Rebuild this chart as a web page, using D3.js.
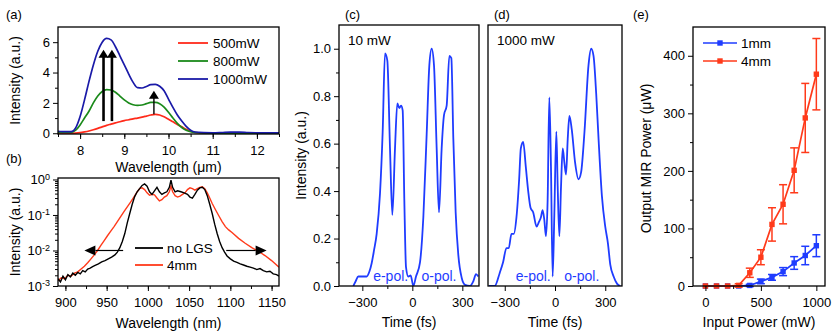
<!DOCTYPE html>
<html>
<head>
<meta charset="utf-8">
<script src="https://cdn.jsdelivr.net/npm/d3@7"></script>
<style>
  body { margin: 0; background: #fff; }
  svg { display: block; font-family: "Liberation Sans", Arial, sans-serif; }
</style>
</head>
<body>
<svg id="fig" width="833" height="333"></svg>
<script>
// ---------- data ----------
// (a) MIR spectra vs wavelength (um)
const wlA = [7.5,7.6,7.7,7.8,7.9,8.0,8.1,8.2,8.3,8.4,8.5,8.6,8.7,8.8,8.9,9.0,9.1,9.2,9.3,9.4,9.5,9.6,9.7,9.8,9.9,10.0,10.1,10.2,10.3,10.4,10.5,10.6,10.8,11.0,11.2,11.4,11.6,11.8,12.0,12.2,12.5];
const spec500 = [0,0,0,0,0.01,0.04,0.09,0.15,0.23,0.32,0.42,0.52,0.6,0.68,0.76,0.83,0.89,0.95,1.0,1.06,1.13,1.2,1.24,1.2,1.08,0.92,0.75,0.58,0.42,0.26,0.13,0.05,0.01,0,0,0,0,0,0,0,0];
const spec800 = [0.05,0.05,0.05,0.05,0.2,0.55,1.0,1.45,2.0,2.45,2.75,2.88,2.85,2.7,2.45,2.2,2.0,1.88,1.84,1.86,1.95,2.03,2.04,1.95,1.72,1.38,1.0,0.65,0.38,0.2,0.1,0.05,0.02,0.01,0.01,0.01,0.01,0.01,0.01,0.01,0.01];
const spec1000 = [0.12,0.11,0.1,0.1,0.35,1.1,2.2,3.4,4.5,5.4,6.0,6.25,6.15,5.7,5.1,4.5,3.9,3.35,3.0,2.98,3.08,3.2,3.22,3.1,2.8,2.25,1.7,1.2,0.8,0.45,0.2,0.08,0.04,0.03,0.05,0.08,0.08,0.05,0.03,0.02,0.02];
const seriesA = [
  { name: '500mW', color: '#ff2a1a', values: spec500 },
  { name: '800mW', color: '#1a8a1a', values: spec800 },
  { name: '1000mW', color: '#1a1aa8', values: spec1000 }
];
const arrowsA = [
  { x: 8.53, y0: 0.8, y1: 5.5, w: 2.6 },
  { x: 8.72, y0: 0.8, y1: 5.5, w: 2.6 },
  { x: 9.67, y0: 1.25, y1: 2.8, w: 1.4 }
];

// (b) pump spectra, log scale
const wlNoLGS = [891,894,897,900,903,906,909,912,915,918,921,924,927,930,933,936,940,944,948,952,956,960,963,966,969,972,975,978,981,984,987,990,993,996,999,1002,1005,1008,1011,1014,1017,1020,1023,1026,1028,1030,1033,1036,1040,1044,1048,1051,1054,1057,1060,1063,1066,1069,1072,1075,1078,1081,1084,1087,1090,1093,1096,1100,1104,1108,1112,1116,1120,1124,1128,1132,1136,1140,1144,1148,1152,1156,1159];
const intNoLGS = [1.6e-3,1.3e-3,1.9e-3,1.5e-3,2.1e-3,1.8e-3,2.3e-3,2.0e-3,2.4e-3,2.2e-3,2.7e-3,2.5e-3,3.0e-3,3.2e-3,3.5e-3,3.8e-3,4.2e-3,4.8e-3,5.2e-3,5.8e-3,6.5e-3,7.5e-3,9e-3,0.012,0.018,0.03,0.06,0.11,0.2,0.33,0.45,0.55,0.68,0.75,0.65,0.45,0.38,0.48,0.6,0.45,0.38,0.42,0.45,0.6,0.95,0.6,0.45,0.48,0.45,0.42,0.38,0.32,0.3,0.38,0.5,0.58,0.6,0.52,0.35,0.2,0.11,0.055,0.03,0.018,0.012,0.009,0.007,5.8e-3,5.0e-3,4.6e-3,4.2e-3,3.9e-3,3.6e-3,3.4e-3,3.2e-3,2.9e-3,3.1e-3,2.7e-3,2.5e-3,2.6e-3,2.2e-3,2.1e-3,1.9e-3];
const wl4mm = [891,895,899,903,907,911,915,919,923,927,931,935,939,943,947,951,955,959,963,967,971,975,979,983,987,990,993,996,999,1002,1005,1008,1011,1014,1017,1020,1023,1026,1028,1030,1033,1036,1039,1042,1045,1048,1051,1054,1057,1060,1063,1066,1069,1072,1075,1078,1082,1086,1090,1094,1098,1102,1110,1118,1126,1134,1142,1150,1159];
const int4mm = [1.4e-3,1.7e-3,1.6e-3,2.0e-3,1.9e-3,2.3e-3,2.5e-3,3.0e-3,3.6e-3,4.5e-3,5.8e-3,7.5e-3,0.01,0.014,0.019,0.026,0.035,0.047,0.065,0.09,0.125,0.17,0.23,0.32,0.45,0.55,0.58,0.52,0.42,0.36,0.38,0.37,0.3,0.25,0.27,0.32,0.35,0.45,0.65,0.45,0.35,0.32,0.34,0.38,0.42,0.52,0.58,0.55,0.5,0.55,0.6,0.62,0.55,0.42,0.3,0.21,0.14,0.095,0.065,0.047,0.038,0.032,0.022,0.016,0.012,0.0095,0.0072,0.0052,0.0034];
const arrowsB = [
  { x0: 970, x1: 923, y: 0.01 },
  { x0: 1095, x1: 1144, y: 0.01 }
];

// (c) 10 mW, (d) 1000 mW temporal profiles
const timeC = [-354,-340,-324,-300,-274,-258,-244,-230,-214,-194,-178,-164,-150,-134,-120,-104,-90,-78,-68,-58,-48,-38,-24,-10,6,22,46,66,86,102,116,130,146,160,176,190,206,222,234,246,260,276,296,316,346,366,382,396];
const intC = [0,0.02,0.04,0.04,0.04,0.06,0.096,0.15,0.22,0.39,0.65,0.98,0.95,0.58,0.30,0.58,0.77,0.75,0.76,0.74,0.36,0.08,0.04,0.045,0,0.04,0.1,0.29,0.64,0.93,1.0,0.93,0.58,0.31,0.58,0.72,0.76,0.97,0.96,0.62,0.31,0.13,0.035,0.005,0,0.02,0.05,0.04];
const timeD = [-394,-360,-330,-310,-290,-276,-260,-246,-230,-214,-204,-190,-174,-160,-146,-130,-110,-96,-84,-74,-64,-54,-44,-34,-24,-14,-4,8,16,26,36,46,56,66,76,86,100,120,140,156,176,200,216,230,246,260,280,300,316,330,350,370,390];
const intD = [0,0,0.055,0.1,0.16,0.16,0.22,0.22,0.29,0.45,0.58,0.607,0.5,0.4,0.33,0.31,0.25,0.27,0.29,0.32,0.28,0.21,0.36,0.795,0.5,0.04,0.3,0.65,0.42,0.21,0.42,0.58,0.52,0.47,0.62,0.717,0.66,0.52,0.45,0.48,0.65,0.93,1.0,0.97,0.81,0.62,0.38,0.25,0.18,0.09,0.04,0.01,0];

// (e) output MIR power vs input power
const powerIn = [0,100,200,300,400,500,600,700,800,900,1000];
const mir1mm = [0,0,0,0,1,8,15,25,40,53,70];
const err1mm = [0,0,0,0,2,4,5,7,11,16,19];
const mir4mm = [0,0,0,1,23,50,107,142,201,292,368];
const err4mm = [0,0,0,3,8,13,29,34,39,60,62];

// ---------- layout ----------
const svg = d3.select('#fig');
const TICK_FS = 13, TITLE_FS = 14;
const BLUE = '#1f3cff', RED = '#ff3a1a';

const A = { l: 58, r: 279, t: 27, b: 134 };
const B = { l: 58, r: 279, t: 178, b: 286 };
const C = { l: 339, r: 479, t: 25, b: 286 };
const D = { l: 488, r: 622, t: 25, b: 286 };
const E = { l: 693, r: 825, t: 27, b: 286 };

const xA = d3.scaleLinear([7.5, 12.5], [A.l, A.r]);
const yA = d3.scaleLinear([-0.05, 7], [A.b, A.t]);
const xB = d3.scaleLinear([891, 1159], [B.l, B.r]);
const yB = d3.scaleLog([1e-3, 1.1], [B.b, B.t]);
const xC = d3.scaleLinear([-440, 400], [C.l, C.r]);
const yC = d3.scaleLinear([0, 1.1], [C.b, C.t]);
const xD = d3.scaleLinear([-400, 400], [D.l, D.r]);
const yD = d3.scaleLinear([0, 1.1], [D.b, D.t]);
const xE = d3.scaleLinear([-112, 1078], [E.l, E.r]);
const yE = d3.scaleLinear([0, 450], [E.b, E.t]);

const defs = svg.append('defs');
function clip(id, p) {
  defs.append('clipPath').attr('id', id)
    .append('rect').attr('x', p.l).attr('y', p.t).attr('width', p.r - p.l).attr('height', p.b - p.t);
  return svg.append('g').attr('clip-path', `url(#${id})`);
}

function styleAxis(g) {
  g.select('.domain').remove();
  g.selectAll('line').attr('stroke', '#000').attr('stroke-width', 1);
  g.selectAll('text').attr('font-size', TICK_FS).attr('fill', '#000')
    .attr('font-family', '"Liberation Sans", Arial, sans-serif');
}

function xAxis(p, sx, major, minor, fmt) {
  svg.append('g').attr('transform', `translate(0,${p.b})`)
    .call(d3.axisBottom(sx).tickValues(minor).tickSize(3).tickFormat(''))
    .call(styleAxis);
  svg.append('g').attr('transform', `translate(0,${p.b})`)
    .call(d3.axisBottom(sx).tickValues(major).tickSize(5).tickPadding(7).tickFormat(fmt || d3.format('d')))
    .call(styleAxis);
}

function yAxis(p, sy, major, minor, fmt) {
  svg.append('g').attr('transform', `translate(${p.l},0)`)
    .call(d3.axisLeft(sy).tickValues(minor).tickSize(3).tickFormat(''))
    .call(styleAxis);
  return svg.append('g').attr('transform', `translate(${p.l},0)`)
    .call(d3.axisLeft(sy).tickValues(major).tickSize(5).tickPadding(3).tickFormat(fmt || d3.format('d')))
    .call(styleAxis);
}

function frame(p) {
  svg.append('rect').attr('x', p.l).attr('y', p.t).attr('width', p.r - p.l).attr('height', p.b - p.t)
    .attr('fill', 'none').attr('stroke', '#000').attr('stroke-width', 1.3);
}

function text(x, y, s, opts = {}) {
  return svg.append('text').attr('x', x).attr('y', y).text(s)
    .attr('font-size', opts.size || TITLE_FS).attr('fill', opts.color || '#000')
    .attr('text-anchor', opts.anchor || 'start');
}

function yTitle(x, y, s) {
  svg.append('text').attr('transform', `translate(${x},${y}) rotate(-90)`)
    .attr('text-anchor', 'middle').attr('dy', '0.35em')
    .attr('font-size', TITLE_FS).attr('fill', '#000').text(s);
}

// ---------- panel (a) ----------
{
  const g = clip('clipA', A);
  const line = d3.line().x((d, i) => xA(wlA[i])).y(d => yA(d)).curve(d3.curveMonotoneX);
  seriesA.forEach(s => {
    g.append('path').attr('d', line(s.values)).attr('fill', 'none')
      .attr('stroke', s.color).attr('stroke-width', 1.7);
  });
  // arrows
  arrowsA.forEach(a => {
    const x = xA(a.x), yBot = yA(a.y0), yTip = yA(a.y1);
    const hl = 8, hw = 5;
    g.append('line').attr('x1', x).attr('x2', x).attr('y1', yBot).attr('y2', yTip + hl - 1)
      .attr('stroke', '#000').attr('stroke-width', a.w);
    g.append('path').attr('d', `M${x},${yTip}L${x - hw},${yTip + hl}L${x + hw},${yTip + hl}Z`).attr('fill', '#000');
  });
  xAxis(A, xA, [8, 9, 10, 11, 12], d3.range(7.5, 12.51, 0.5));
  yAxis(A, yA, [0, 2, 4, 6], [1, 3, 5]);
  frame(A);
  // legend
  seriesA.forEach((s, i) => {
    const y = A.t + 16 + i * 18;
    svg.append('line').attr('x1', A.l + 120).attr('x2', A.l + 150).attr('y1', y).attr('y2', y)
      .attr('stroke', s.color).attr('stroke-width', 1.8);
    text(A.l + 155, y + 5, s.name, { size: 13.5 });
  });
  yTitle(15, (A.t + A.b) / 2, 'Intensity (a.u.)');
  text((A.l + A.r) / 2, 172, 'Wavelength (\u03bcm)', { anchor: 'middle' });
  text(6, 19, '(a)', { size: 13 });
}

// ---------- panel (b) ----------
{
  const g = clip('clipB', B);
  const lineNo = d3.line().x((d, i) => xB(wlNoLGS[i])).y(d => yB(d));
  const line4 = d3.line().x((d, i) => xB(wl4mm[i])).y(d => yB(d));
  g.append('path').attr('d', line4(int4mm)).attr('fill', 'none').attr('stroke', RED).attr('stroke-width', 1.4);
  g.append('path').attr('d', lineNo(intNoLGS)).attr('fill', 'none').attr('stroke', '#000').attr('stroke-width', 1.4);
  arrowsB.forEach(a => {
    const x0 = xB(a.x0), x1 = xB(a.x1), y = yB(a.y);
    const dir = Math.sign(x1 - x0), hl = 11, hw = 5;
    g.append('line').attr('x1', x0).attr('x2', x1 - dir * hl).attr('y1', y).attr('y2', y)
      .attr('stroke', '#000').attr('stroke-width', 1.2);
    g.append('path').attr('d', `M${x1},${y}L${x1 - dir * hl},${y - hw}L${x1 - dir * hl},${y + hw}Z`).attr('fill', '#000');
  });
  xAxis(B, xB, [900, 950, 1000, 1050, 1100, 1150], d3.range(900, 1151, 25));
  const minorLog = [];
  [1e-3, 1e-2, 1e-1].forEach(dec => d3.range(2, 10).forEach(k => minorLog.push(dec * k)));
  const ya = yAxis(B, yB, [1e-3, 1e-2, 1e-1, 1], minorLog, () => '');
  ya.selectAll('.tick text').each(function (d) {
    const t = d3.select(this).text(null);
    t.append('tspan').text('10');
    t.append('tspan').attr('dy', '-0.5em').attr('font-size', 9).text(String(Math.round(Math.log10(d))));
  });
  frame(B);
  const leg = [{ name: 'no LGS', color: '#000' }, { name: '4mm', color: RED }];
  leg.forEach((s, i) => {
    const y = B.t + 70 + i * 17;
    svg.append('line').attr('x1', B.l + 77).attr('x2', B.l + 105).attr('y1', y).attr('y2', y)
      .attr('stroke', s.color).attr('stroke-width', 1.8);
    text(B.l + 109, y + 5, s.name, { size: 13.5 });
  });
  yTitle(15, (B.t + B.b) / 2, 'Intensity (a.u.)');
  text((B.l + B.r) / 2, 328, 'Wavelength (nm)', { anchor: 'middle' });
  text(6, 163, '(b)', { size: 13 });
}

// ---------- panels (c) and (d) ----------
function pulsePanel(id, p, sx, sy, times, vals, label, letter, withY) {
  const g = clip(id, p);
  const line = d3.line().x((d, i) => sx(times[i])).y(d => sy(d)).curve(d3.curveMonotoneX);
  g.append('path').attr('d', line(vals)).attr('fill', 'none').attr('stroke', BLUE).attr('stroke-width', 1.8);
  xAxis(p, sx, [-300, 0, 300], [-150, 150]);
  if (withY) {
    yAxis(p, sy, d3.range(0, 1.01, 0.2), d3.range(0.1, 1.01, 0.2), d3.format('.1f'));
    yTitle(301, (p.t + p.b) / 2, 'Intensity (a.u.)');
  }
  frame(p);
  text(p.l + 9, p.t + 20, label, { size: 13.5 });
  text(sx(-130), p.b - 5, 'e-pol.', { color: BLUE, anchor: 'middle' });
  text(sx(160), p.b - 5, 'o-pol.', { color: BLUE, anchor: 'middle' });
  text((p.l + p.r) / 2, 327, 'Time (fs)', { anchor: 'middle' });
  text(p.l + 6, 19, letter, { size: 13 });
}
pulsePanel('clipC', C, xC, yC, timeC, intC, '10 mW', '(c)', true);
pulsePanel('clipD', D, xD, yD, timeD, intD, '1000 mW', '(d)', false);

// ---------- panel (e) ----------
{
  const g = svg.append('g');
  const sets = [
    { name: '1mm', color: BLUE, vals: mir1mm, errs: err1mm },
    { name: '4mm', color: RED, vals: mir4mm, errs: err4mm }
  ];
  sets.forEach(s => {
    const line = d3.line().x((d, i) => xE(powerIn[i])).y(d => yE(d));
    g.append('path').attr('d', line(s.vals)).attr('fill', 'none').attr('stroke', s.color).attr('stroke-width', 1.7);
    s.vals.forEach((v, i) => {
      const x = xE(powerIn[i]), e = s.errs[i];
      if (e > 0) {
        const y0 = yE(v - e), y1 = yE(v + e);
        g.append('line').attr('x1', x).attr('x2', x).attr('y1', y0).attr('y2', y1).attr('stroke', s.color).attr('stroke-width', 1.5);
        [y0, y1].forEach(yy => g.append('line').attr('x1', x - 4).attr('x2', x + 4).attr('y1', yy).attr('y2', yy)
          .attr('stroke', s.color).attr('stroke-width', 1.5));
      }
      g.append('rect').attr('x', x - 2.7).attr('y', yE(v) - 2.7).attr('width', 5.4).attr('height', 5.4).attr('fill', s.color);
    });
  });
  xAxis(E, xE, [0, 500, 1000], [250, 750]);
  yAxis(E, yE, [0, 100, 200, 300, 400], [50, 150, 250, 350]);
  frame(E);
  sets.forEach((s, i) => {
    const y = E.t + 16 + i * 18;
    svg.append('line').attr('x1', E.l + 10).attr('x2', E.l + 44).attr('y1', y).attr('y2', y)
      .attr('stroke', s.color).attr('stroke-width', 1.6);
    svg.append('rect').attr('x', E.l + 24.3).attr('y', y - 2.7).attr('width', 5.4).attr('height', 5.4).attr('fill', s.color);
    text(E.l + 48, y + 5, s.name, { size: 13.5 });
  });
  yTitle(646, (E.t + E.b) / 2 + 2, 'Output MIR Power (\u03bcW)');
  text((E.l + E.r) / 2, 327, 'Input Power (mW)', { anchor: 'middle' });
  text(633, 19, '(e)', { size: 13 });
}
</script>
</body>
</html>
